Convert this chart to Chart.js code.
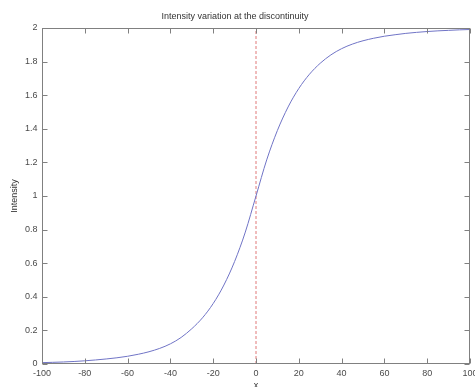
<!DOCTYPE html>
<html>
<head>
<meta charset="utf-8">
<script src="https://cdn.jsdelivr.net/npm/chart.js@4.4.1/dist/chart.umd.min.js"></script>
<style>
  html, body { margin: 0; padding: 0; background: #fff; }
  #wrap { width: 475px; height: 387px; }
</style>
</head>
<body>
<div id="wrap"><canvas id="myChart" width="475" height="387"></canvas></div>
<script>
// values
const xValues = [-100, -95, -90, -85, -80, -75, -70, -65, -60, -55, -50, -45, -40, -35, -30, -25, -20, -15, -10, -5,
  0, 5, 10, 15, 20, 25, 30, 35, 40, 45, 50, 55, 60, 65, 70, 75, 80, 85, 90, 95, 100];
const intensity = [0.008, 0.010, 0.012, 0.015, 0.019, 0.024, 0.030, 0.037, 0.046, 0.058, 0.073, 0.093, 0.12, 0.158, 0.21, 0.275, 0.36, 0.47, 0.61, 0.785,
  1.0, 1.215, 1.39, 1.53, 1.64, 1.725, 1.79, 1.84, 1.877, 1.904, 1.924, 1.939, 1.951, 1.960, 1.968, 1.974, 1.979, 1.983, 1.986, 1.989, 1.991];
const markerX = [0, 0];
const markerY = [0, 2];

const xTicks = [-100, -80, -60, -40, -20, 0, 20, 40, 60, 80, 100];
const xTickLabels = ['-100', '-80', '-60', '-40', '-20', '0', '20', '40', '60', '80', '100'];
const yTicks = [0, 0.2, 0.4, 0.6, 0.8, 1, 1.2, 1.4, 1.6, 1.8, 2];
const yTickLabels = ['0', '0.2', '0.4', '0.6', '0.8', '1', '1.2', '1.4', '1.6', '1.8', '2'];

const fontFamily = '"Liberation Sans", Arial, Helvetica, sans-serif';

// matlab style box with inward ticks on all four sides
const boxPlugin = {
  id: 'matlabBox',
  afterDraw(chart) {
    const ctx = chart.ctx;
    const area = chart.chartArea;
    const xs = chart.scales.x;
    const ys = chart.scales.y;
    const left = Math.round(area.left) + 0.5;
    const right = Math.round(area.right) - 0.5;
    const top = Math.round(area.top) + 0.5;
    const bottom = Math.round(area.bottom) - 0.5;
    const tick = 5;

    ctx.save();
    ctx.strokeStyle = '#808080';
    ctx.lineWidth = 1;
    ctx.strokeRect(left, top, right - left, bottom - top);

    ctx.beginPath();
    xTicks.forEach(v => {
      const px = Math.round(xs.getPixelForValue(v)) + 0.5;
      ctx.moveTo(px, bottom); ctx.lineTo(px, bottom - tick);
      ctx.moveTo(px, top); ctx.lineTo(px, top + tick);
    });
    yTicks.forEach(v => {
      const py = Math.round(ys.getPixelForValue(v)) + 0.5;
      ctx.moveTo(left, py); ctx.lineTo(left + tick, py);
      ctx.moveTo(right, py); ctx.lineTo(right - tick, py);
    });
    ctx.stroke();

    ctx.fillStyle = '#4a4a4a';
    ctx.font = '9px ' + fontFamily;
    ctx.textAlign = 'center';
    ctx.textBaseline = 'middle';
    xTicks.forEach((v, i) => {
      ctx.fillText(xTickLabels[i], xs.getPixelForValue(v), bottom + 10);
    });
    ctx.textAlign = 'right';
    yTicks.forEach((v, i) => {
      ctx.fillText(yTickLabels[i], left - 5, ys.getPixelForValue(v));
    });
    ctx.restore();
  }
};

const context = document.getElementById('myChart').getContext('2d');

const myChart = new Chart(context, {
  type: 'line',
  data: {
    datasets: [{
      label: 'Intensity',
      data: xValues.map((x, i) => ({ x: x, y: intensity[i] })),
      borderColor: '#7074c6',
      borderWidth: 1,
      pointRadius: 0,
      cubicInterpolationMode: 'monotone',
      fill: false
    }, {
      label: 'Discontinuity',
      data: markerX.map((x, i) => ({ x: x, y: markerY[i] })),
      borderColor: '#e07878',
      borderWidth: 1,
      borderDash: [3, 2],
      pointRadius: 0,
      fill: false
    }]
  },
  options: {
    responsive: false,
    animation: false,
    events: [],
    layout: { padding: { left: 0, right: 5, top: 0, bottom: 0 } },
    plugins: {
      legend: { display: false },
      tooltip: { enabled: false },
      title: {
        display: true,
        text: 'Intensity variation at the discontinuity',
        color: '#333',
        font: { family: fontFamily, size: 9, weight: 'normal' },
        padding: { top: 11, bottom: 6.2 }
      }
    },
    scales: {
      x: {
        type: 'linear',
        min: -100,
        max: 100,
        grid: { display: false },
        border: { display: false },
        ticks: { display: false },
        afterBuildTicks: scale => { scale.ticks = xTicks.map(v => ({ value: v })); },
        afterFit: scale => { scale.height = 23; },
        title: {
          display: true,
          text: 'x',
          color: '#333',
          font: { family: fontFamily, size: 9 },
          padding: { top: 0, bottom: -4 }
        }
      },
      y: {
        type: 'linear',
        min: 0,
        max: 2,
        grid: { display: false },
        border: { display: false },
        ticks: { display: false },
        afterBuildTicks: scale => { scale.ticks = yTicks.map(v => ({ value: v })); },
        afterFit: scale => { scale.width = 42; },
        title: {
          display: true,
          text: 'Intensity',
          color: '#333',
          font: { family: fontFamily, size: 9 },
          padding: { top: 9, bottom: 0 }
        }
      }
    }
  },
  plugins: [boxPlugin]
});
</script>
</body>
</html>
